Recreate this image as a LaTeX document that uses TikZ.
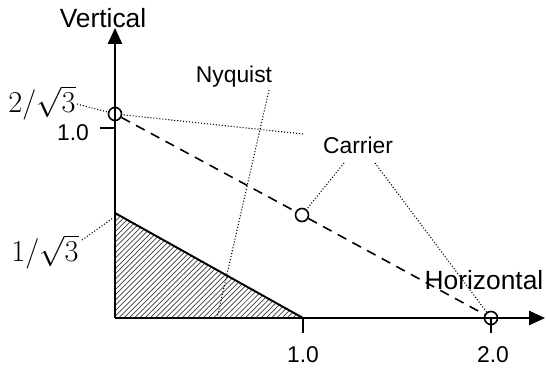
\documentclass[tikz,border=0pt]{standalone}
\usepackage{fontspec}
\setmainfont{Liberation Sans}
\usetikzlibrary{arrows.meta,patterns}
\begin{document}
\begin{tikzpicture}[
    axis/.style={line width=1.1pt, -{Triangle[length=9pt,width=8pt]}},
    leader/.style={line width=0.6pt, dash pattern=on 0.6pt off 1.1pt},
    carrierline/.style={line width=0.9pt, dash pattern=on 5.5pt off 4pt},
    marker/.style={circle, draw, line width=0.9pt, fill=white, inner sep=0pt, minimum size=0.26cm},
    lbl/.style={font=\fontsize{13}{15}\selectfont, inner sep=1pt},
    biglbl/.style={font=\fontsize{15}{17}\selectfont, inner sep=1pt},
    mathlbl/.style={font=\fontsize{16}{18}\selectfont, inner sep=1pt}
  ]
  \useasboundingbox (0,0) rectangle (10.92,7.36);

  % Assen
  \coordinate (O) at (2.30,1.00);
  \coordinate (vtip) at (2.30,6.80);
  \coordinate (htip) at (10.90,1.00);

  % Gearceerd gebied (Nyquist)
  \coordinate (ntop) at (2.30,3.10);
  \coordinate (nright) at (6.06,1.00);
  \fill[pattern=north east lines, pattern color=black!75] (O) -- (ntop) -- (nright) -- cycle;
  \draw[line width=1.1pt] (ntop) -- (nright);

  % Draaggolfpunten
  \node[marker] (A) at (2.30,5.08) {};
  \node[marker] (B) at (6.04,3.06) {};
  \node[marker] (C) at (9.82,1.00) {};
  \draw[carrierline] (A) -- (B) -- (C);

  \draw[axis] (O) -- (vtip);
  \draw[axis] (O) -- (htip);

  % Streepjes
  \coordinate (t1) at (6.06,1.00);
  \coordinate (t2) at (9.82,1.00);
  \coordinate (ty) at (2.30,4.80);
  \draw[line width=1.1pt] (t1) -- ++(0,-0.30);
  \draw[line width=1.1pt] (t2) -- ++(0,-0.30);
  \draw[line width=1.1pt] (ty) -- ++(-0.30,0);

  % Labels
  \node[biglbl] (vert) at (2.06,7.00) {Vertical};
  \node[biglbl] (hor) at (9.68,1.76) {Horizontal};
  \node[lbl] (carrier) at (7.16,4.46) {Carrier};
  \node[lbl] (nyq) at (4.68,5.82) {Nyquist};
  \node[lbl] (x1) at (6.06,0.26) {1.0};
  \node[lbl] (x2) at (9.86,0.26) {2.0};
  \node[lbl] (y1) at (1.46,4.70) {1.0};
  \node[mathlbl] (twosq) at (0.84,5.30) {$2\big/\sqrt{3}$};
  \node[mathlbl] (onesq) at (0.90,2.32) {$1\big/\sqrt{3}$};

  % Hulplijnen
  \coordinate (twoend) at (1.54,5.28);
  \coordinate (oneend) at (1.64,2.56);
  \coordinate (onetip) at (2.26,3.00);
  \coordinate (nyqend) at (5.38,5.56);
  \coordinate (nyqtip) at (4.34,1.00);
  \coordinate (carA) at (6.06,4.68);
  \coordinate (carB) at (6.88,4.10);
  \coordinate (carC) at (7.50,4.10);
  \draw[leader] (twoend) -- (A);
  \draw[leader] (oneend) -- (onetip);
  \draw[leader] (nyqend) -- (nyqtip);
  \draw[leader] (carA) -- (A);
  \draw[leader] (carB) -- (B);
  \draw[leader] (carC) -- (C);

\end{tikzpicture}
\end{document}
